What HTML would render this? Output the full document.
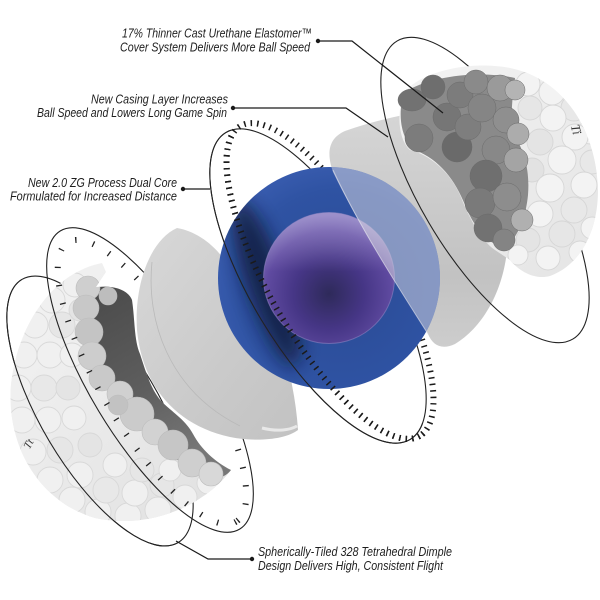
<!DOCTYPE html>
<html><head><meta charset="utf-8"><style>
html,body{margin:0;padding:0;background:#fff;}
svg{display:block;}
.lb{font-family:"Liberation Sans Narrow","Liberation Sans",sans-serif;font-style:italic;font-size:13px;fill:#1e1e1e;}
</style></head><body>
<svg width="600" height="600" viewBox="0 0 600 600" xmlns="http://www.w3.org/2000/svg">
<defs>
 <clipPath id="cLeftSmall"><polygon points="-207,-105 304,755 -700,755 -700,-105"/></clipPath>
 <clipPath id="cCoreFront"><polygon points="3,-222 657,784 -700,784 -700,-222"/></clipPath>
 <clipPath id="cCore"><circle cx="329" cy="278" r="111"/></clipPath>
 <clipPath id="cLB"><path d="M102,263 L106,272 L96,287 C114,285 128,290 132,300 C135,320 134,340 140,354 C146,372 151,391 163,403 C175,414 186,421 193,434 C201,449 215,462 231,470 C205,505 150,530 95,518 C40,502 6,447 11,385 C18,322 55,272 102,263 Z"/></clipPath>
 <clipPath id="cRB"><path d="M405,92 C420,72 470,60 510,68 C560,78 596,125 598,190 C598,232 580,265 550,276 C535,280 520,272 510,260 L495,250 C480,240 468,215 460,195 C450,172 430,155 410,150 C398,140 396,110 405,92 Z"/></clipPath>
 <filter id="blur8" x="-50%" y="-50%" width="200%" height="200%"><feGaussianBlur stdDeviation="9"/></filter>
 <linearGradient id="gLB" x1="0" y1="0" x2="1" y2="1">
  <stop offset="0" stop-color="#f4f4f4"/><stop offset="1" stop-color="#e0e0e0"/>
 </linearGradient>
 <linearGradient id="gDark" x1="0" y1="0" x2="0.4" y2="1">
  <stop offset="0" stop-color="#4a4a4a"/><stop offset="0.6" stop-color="#5e5e5e"/><stop offset="1" stop-color="#777"/>
 </linearGradient>
 <linearGradient id="gBowl" x1="0" y1="0" x2="1" y2="1">
  <stop offset="0" stop-color="#d8d8d8"/><stop offset="0.6" stop-color="#cacaca"/><stop offset="1" stop-color="#c2c2c2"/>
 </linearGradient>
 <linearGradient id="gCasing" x1="0" y1="0" x2="0" y2="1">
  <stop offset="0" stop-color="#d6d6d6"/><stop offset="0.7" stop-color="#c2c2c2"/><stop offset="1" stop-color="#cdcdcd"/>
 </linearGradient>
 <radialGradient id="gBlue" cx="0.55" cy="0.55" r="0.6">
  <stop offset="0" stop-color="#2a4a94"/><stop offset="0.75" stop-color="#2f53a3"/><stop offset="1" stop-color="#3a5db0"/>
 </radialGradient>
 <radialGradient id="gPurple" cx="0.5" cy="0.62" r="0.6">
  <stop offset="0" stop-color="#2e2a5a"/><stop offset="0.45" stop-color="#463686"/><stop offset="0.8" stop-color="#5f4aa0"/><stop offset="1" stop-color="#7a6ab4"/>
 </radialGradient>
 <linearGradient id="gPurpleTop" x1="0" y1="0" x2="0" y2="1">
  <stop offset="0" stop-color="#c8c0e8" stop-opacity="0.45"/><stop offset="0.45" stop-color="#c8c0e8" stop-opacity="0"/>
 </linearGradient>
 <linearGradient id="gRB" x1="0" y1="0" x2="1" y2="1">
  <stop offset="0" stop-color="#f4f4f4"/><stop offset="1" stop-color="#e4e4e4"/>
 </linearGradient>
</defs>

<rect width="600" height="600" fill="#fff"/>

<!-- LEFT small ellipse (full, behind ball) -->
<ellipse cx="100" cy="411" rx="153" ry="59" transform="rotate(59.3 100 411)" fill="none" stroke="#222" stroke-width="1.1"/>

<!-- LEFT BALL -->
<path d="M102,263 L106,272 L96,287 C114,285 128,290 132,300 C135,320 134,340 140,354 C146,372 151,391 163,403 C175,414 186,421 193,434 C201,449 215,462 231,470 C205,505 150,530 95,518 C40,502 6,447 11,385 C18,322 55,272 102,263 Z" fill="url(#gLB)"/>
<g clip-path="url(#cLB)" fill="#f0f0f0" stroke="#d8d8d8" stroke-width="0.9">
 <circle cx="75" cy="285" r="12"/><circle cx="52" cy="300" r="13"/><circle cx="35" cy="325" r="13"/>
 <circle cx="24" cy="355" r="13"/><circle cx="18" cy="388" r="13"/><circle cx="22" cy="420" r="13"/>
 <circle cx="33" cy="452" r="13"/><circle cx="50" cy="480" r="13"/><circle cx="72" cy="500" r="13"/>
 <circle cx="98" cy="512" r="13"/><circle cx="128" cy="516" r="13"/><circle cx="158" cy="510" r="13"/>
 <circle cx="185" cy="497" r="12"/><circle cx="208" cy="483" r="11"/>
 <circle cx="62" cy="325" r="13" fill="#e6e6e6"/><circle cx="50" cy="355" r="13"/><circle cx="44" cy="388" r="13" fill="#e8e8e8"/>
 <circle cx="48" cy="420" r="13"/><circle cx="60" cy="450" r="13" fill="#e6e6e6"/><circle cx="80" cy="475" r="13"/>
 <circle cx="106" cy="490" r="13" fill="#e8e8e8"/><circle cx="135" cy="493" r="13"/><circle cx="162" cy="485" r="12" fill="#e6e6e6"/>
 <circle cx="72" cy="355" r="12"/><circle cx="68" cy="388" r="12" fill="#e4e4e4"/><circle cx="74" cy="418" r="12"/>
 <circle cx="90" cy="445" r="12" fill="#e4e4e4"/><circle cx="115" cy="465" r="12"/><circle cx="142" cy="470" r="12" fill="#e6e6e6"/>
 <circle cx="170" cy="470" r="11"/><circle cx="80" cy="310" r="11" fill="#e4e4e4"/>
</g>
<path d="M93,288 C110,284 128,289 132,300 C135,320 134,340 140,354 C146,372 151,391 163,403 C175,414 186,421 193,434 C201,449 215,462 231,470 C225,478 215,480 205,476 C185,466 160,450 140,428 C118,405 103,380 97,350 C93,330 90,305 93,288 Z" fill="url(#gDark)"/>
<g clip-path="url(#cLB)" stroke="#bcbcbc" stroke-width="0.6">
 <circle cx="88" cy="288" r="12" fill="#cfcfcf"/><circle cx="86" cy="308" r="13" fill="#c8c8c8"/>
 <circle cx="89" cy="332" r="14" fill="#c4c4c4"/><circle cx="92" cy="356" r="14" fill="#cdcdcd"/>
 <circle cx="102" cy="378" r="13" fill="#c9c9c9"/><circle cx="120" cy="394" r="13" fill="#d0d0d0"/>
 <circle cx="137" cy="414" r="17" fill="#cbcbcb"/><circle cx="155" cy="432" r="13" fill="#d2d2d2"/>
 <circle cx="173" cy="445" r="15" fill="#c6c6c6"/><circle cx="192" cy="463" r="14" fill="#cfcfcf"/>
 <circle cx="211" cy="474" r="12" fill="#d8d8d8"/><circle cx="108" cy="296" r="9" fill="#bdbdbd"/>
 <circle cx="118" cy="405" r="10" fill="#c2c2c2"/>
</g>
<text x="22" y="447" transform="rotate(-60 28 442)" style="font-family:'Liberation Serif',serif;font-style:italic;font-size:11px;fill:#333;">Tt</text>

<!-- LEFT small ellipse front half -->
<g clip-path="url(#cLeftSmall)">
 <ellipse cx="100" cy="411" rx="153" ry="59" transform="rotate(59.3 100 411)" fill="none" stroke="#222" stroke-width="1.1"/>
</g>

<!-- LEFT ticked ellipse -->
<ellipse cx="150" cy="380" rx="174" ry="60" transform="rotate(59 150 380)" fill="none" stroke="#222" stroke-width="1.1"/>
<ellipse cx="152" cy="382" rx="163" ry="50" transform="rotate(59 152 382)" fill="none" stroke="#222" stroke-width="6" stroke-dasharray="1.3 17"/>

<!-- LEFT BOWL -->
<path d="M177,228 C195,231 212,243 223,258 C250,295 285,345 292,385 C295,400 297,415 298,430 C285,440 255,442 230,437 C175,425 142,385 137,330 C134,285 150,240 177,228 Z" fill="url(#gBowl)"/>
<path d="M152,262 C146,320 168,390 240,426" fill="none" stroke="#b9b9b9" stroke-width="0.8"/>
<path d="M262,428 C278,432 290,430 297,426" fill="none" stroke="#e8e8e8" stroke-width="3"/>

<!-- CORE ellipse + ticks (full, behind) -->
<ellipse cx="318" cy="286" rx="179" ry="66" transform="rotate(59 318 286)" fill="none" stroke="#222" stroke-width="1.1"/>
<ellipse cx="330" cy="281" rx="179" ry="60" transform="rotate(60 330 281)" fill="none" stroke="#1a1a1a" stroke-width="6" stroke-dasharray="1.5 5"/>

<!-- RIGHT CASING -->
<path d="M333,172 C326,152 329,138 345,131 C370,122 400,115 430,110 L500,140 L507,250 C503,292 482,328 455,344 C442,350 433,346 428,334 C400,290 360,228 333,172 Z" fill="url(#gCasing)"/>

<!-- CORE -->
<circle cx="329" cy="278" r="111" fill="url(#gBlue)"/>
<g clip-path="url(#cCore)">
 <ellipse cx="266" cy="283" rx="20" ry="88" transform="rotate(-19 266 283)" fill="#0c1530" opacity="0.75" filter="url(#blur8)"/>
</g>
<circle cx="329" cy="278" r="65.5" fill="url(#gPurple)"/>
<circle cx="329" cy="278" r="65.5" fill="url(#gPurpleTop)"/>
<circle cx="329" cy="278" r="65.5" fill="none" stroke="#9a8cc8" stroke-width="1" opacity="0.5"/>
<g clip-path="url(#cCore)">
 <path d="M333,172 C326,152 329,138 345,131 C370,122 400,115 430,110 L500,140 L507,250 C503,292 482,328 455,344 C442,350 433,346 428,334 C400,290 360,228 333,172 Z" fill="#d8d8e2" opacity="0.52"/>
</g>
<path d="M333,170 C360,228 400,290 428,334" fill="none" stroke="#e4e4ee" stroke-width="1" opacity="0.6"/>

<!-- CORE ellipse + ticks front half -->
<g clip-path="url(#cCoreFront)">
 <ellipse cx="318" cy="286" rx="179" ry="66" transform="rotate(59 318 286)" fill="none" stroke="#222" stroke-width="1.1"/>
 <ellipse cx="330" cy="281" rx="179" ry="60" transform="rotate(60 330 281)" fill="none" stroke="#1a1a1a" stroke-width="6" stroke-dasharray="1.5 5"/>
</g>

<!-- RIGHT ellipse -->
<ellipse cx="485" cy="190" rx="173" ry="65" transform="rotate(59.5 485 190)" fill="none" stroke="#222" stroke-width="1.1"/>

<!-- RIGHT BALL -->
<path d="M405,92 C420,72 470,60 510,68 C560,78 596,125 598,190 C598,232 580,265 550,276 C535,280 520,272 510,260 L495,250 C480,240 468,215 460,195 C450,172 430,155 410,150 C398,140 396,110 405,92 Z" fill="url(#gRB)"/>
<g clip-path="url(#cRB)" fill="#f3f3f3" stroke="#d6d6d6" stroke-width="0.9">
 <circle cx="528" cy="84" r="12"/><circle cx="552" cy="92" r="13"/><circle cx="574" cy="108" r="13" fill="#e8e8e8"/>
 <circle cx="590" cy="132" r="12"/><circle cx="530" cy="108" r="12" fill="#e6e6e6"/><circle cx="553" cy="118" r="13"/>
 <circle cx="575" cy="137" r="13"/><circle cx="592" cy="162" r="12" fill="#e8e8e8"/><circle cx="540" cy="142" r="13" fill="#e4e4e4"/>
 <circle cx="562" cy="160" r="14"/><circle cx="584" cy="185" r="13"/><circle cx="532" cy="170" r="12" fill="#e2e2e2"/>
 <circle cx="550" cy="188" r="14"/><circle cx="574" cy="210" r="13" fill="#e8e8e8"/><circle cx="592" cy="228" r="11"/>
 <circle cx="540" cy="214" r="13"/><circle cx="562" cy="234" r="13" fill="#e6e6e6"/><circle cx="580" cy="252" r="11"/>
 <circle cx="528" cy="240" r="12" fill="#e4e4e4"/><circle cx="548" cy="258" r="12"/><circle cx="518" cy="255" r="10"/>
</g>
<path d="M405,92 C430,76 480,70 515,78 C512,100 510,120 514,135 C524,150 530,170 528,195 C526,215 520,235 505,248 C490,245 475,230 465,205 C455,180 440,160 415,150 C400,140 397,110 405,92 Z" fill="#8a8a8a"/>
<g stroke="#6a6a6a" stroke-width="0.5">
 <ellipse cx="412" cy="100" rx="14" ry="11" fill="#727272"/>
 <circle cx="419" cy="138" r="14" fill="#7c7c7c"/>
 <circle cx="433" cy="87" r="12" fill="#6e6e6e"/>
 <circle cx="447" cy="117" r="14" fill="#767676"/>
 <circle cx="460" cy="95" r="13" fill="#7c7c7c"/>
 <circle cx="457" cy="147" r="15" fill="#6a6a6a"/>
 <circle cx="468" cy="127" r="13" fill="#7e7e7e"/>
 <circle cx="482" cy="108" r="14" fill="#858585"/>
 <circle cx="476" cy="82" r="12" fill="#8a8a8a"/>
 <circle cx="500" cy="88" r="13" fill="#9a9a9a"/>
 <circle cx="506" cy="120" r="13" fill="#8f8f8f"/>
 <circle cx="496" cy="150" r="14" fill="#888"/>
 <circle cx="486" cy="176" r="16" fill="#6f6f6f"/>
 <circle cx="516" cy="160" r="12" fill="#a4a4a4"/>
 <circle cx="518" cy="134" r="11" fill="#acacac"/>
 <circle cx="480" cy="203" r="15" fill="#7a7a7a"/>
 <circle cx="507" cy="197" r="14" fill="#8d8d8d"/>
 <circle cx="488" cy="228" r="14" fill="#727272"/>
 <circle cx="504" cy="240" r="11" fill="#848484"/>
 <circle cx="522" cy="220" r="11" fill="#b0b0b0"/>
 <circle cx="515" cy="90" r="10" fill="#b4b4b4"/>
</g>
<text x="572" y="136" transform="rotate(75 578 130)" style="font-family:'Liberation Serif',serif;font-style:italic;font-size:13px;fill:#333;">Ti</text>

<!-- CONNECTORS -->
<g fill="none" stroke="#1a1a1a" stroke-width="1.2">
 <polyline points="318,41 352,41 443,113"/>
 <polyline points="233,108 346,108 388,137"/>
 <polyline points="183,189 210,189"/>
 <polyline points="252,559 208,559 176,541"/>
</g>
<g fill="#1a1a1a">
 <circle cx="318" cy="41" r="2.2"/><circle cx="233" cy="108" r="2.2"/>
 <circle cx="183" cy="189" r="2.2"/><circle cx="252" cy="559" r="2.2"/>
</g>

<!-- LABELS -->
<text class="lb" x="122" y="37.5" textLength="190" lengthAdjust="spacingAndGlyphs">17% Thinner Cast Urethane Elastomer™</text>
<text class="lb" x="120" y="51.5" textLength="190" lengthAdjust="spacingAndGlyphs">Cover System Delivers More Ball Speed</text>
<text class="lb" x="91" y="103.5" textLength="137" lengthAdjust="spacingAndGlyphs">New Casing Layer Increases</text>
<text class="lb" x="37" y="117" textLength="190" lengthAdjust="spacingAndGlyphs">Ball Speed and Lowers Long Game Spin</text>
<text class="lb" x="28" y="187" textLength="149" lengthAdjust="spacingAndGlyphs">New 2.0 ZG Process Dual Core</text>
<text class="lb" x="10" y="200.5" textLength="167" lengthAdjust="spacingAndGlyphs">Formulated for Increased Distance</text>
<text class="lb" x="258" y="556" textLength="194" lengthAdjust="spacingAndGlyphs">Spherically-Tiled 328 Tetrahedral Dimple</text>
<text class="lb" x="258" y="570" textLength="185" lengthAdjust="spacingAndGlyphs">Design Delivers High, Consistent Flight</text>
</svg>
</body></html>
